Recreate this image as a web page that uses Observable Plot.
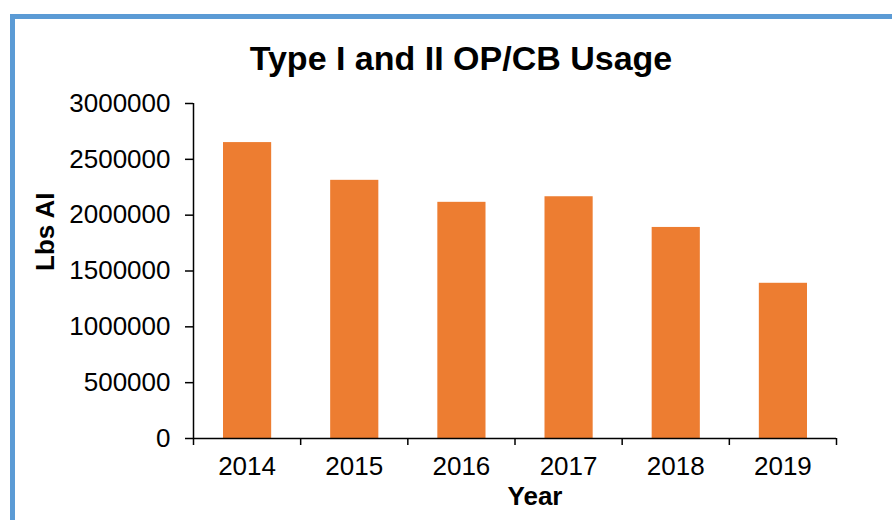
<!DOCTYPE html>
<html>
<head>
<meta charset="utf-8">
<script src="https://cdn.jsdelivr.net/npm/d3@7"></script>
<script src="https://cdn.jsdelivr.net/npm/@observablehq/plot@0.6"></script>
<style>
  html, body { margin: 0; padding: 0; background: #ffffff; }
  #wrap { position: relative; width: 892px; height: 520px; overflow: hidden; background: #ffffff; font-family: "Liberation Sans", Arial, sans-serif; }
  #border { position: absolute; left: 10px; top: 14px; width: 1000px; height: 600px; border-left: 5px solid #5B9BD5; border-top: 5px solid #5B9BD5; box-sizing: border-box; }
  #title { position: absolute; left: 0; top: 0; width: 922px; height: 80px; }
  #title h1 { margin: 0; position: absolute; left: 0; top: 41px; width: 100%; text-align: center; font-size: 34px; line-height: 34px; font-weight: bold; color: #000; }
  #chart { position: absolute; left: 0; top: 80px; }
  #chart svg { overflow: visible; }
</style>
</head>
<body>
<div id="wrap">
  <div id="border"></div>
  <div id="title"><h1>Type I and II OP/CB Usage</h1></div>
  <div id="chart"></div>
</div>
<script>
const years = [2014, 2015, 2016, 2017, 2018, 2019];
const usage = [2650000, 2312000, 2115000, 2165000, 1890000, 1390000];
const yTicks = [0, 500000, 1000000, 1500000, 2000000, 2500000, 3000000];
const xBoundaries = [2013.5, 2014.5, 2015.5, 2016.5, 2017.5, 2018.5, 2019.5];
const yLabel = ["Lbs AI"];
const xLabel = ["Year"];

const data = years.map((year, i) => ({year, value: usage[i]}));

const chart = Plot.plot({
  width: 892,
  height: 440,
  marginTop: 23,
  marginBottom: 82,
  marginLeft: 193,
  marginRight: 56,
  style: {fontFamily: "'Liberation Sans', Arial, sans-serif", fontSize: "26px", color: "#000", background: "transparent"},
  x: {domain: [2013.5, 2019.5]},
  y: {domain: [0, 3000000]},
  marks: [
    Plot.rectY(data, {x1: d => d.year - 0.5, x2: d => d.year + 0.5, y: "value", fill: "#ED7D31", insetLeft: 30, insetRight: 29}),
    Plot.ruleX([2013.5], {stroke: "#000", strokeWidth: 1.5}),
    Plot.ruleY([0], {stroke: "#000", strokeWidth: 1.5}),
    Plot.axisY({ticks: yTicks, tickFormat: d3.format("d"), tickSize: 8, tickPadding: 15, label: null, strokeWidth: 1.5, fill: "#000"}),
    Plot.axisX({ticks: xBoundaries, tickFormat: () => "", tickSize: 7, label: null, strokeWidth: 1.5}),
    Plot.axisX({ticks: years, tickFormat: d => String(d), tickSize: 0, tickPadding: 18, label: null, fill: "#000"}),
    Plot.text(yLabel, {frameAnchor: "left", rotate: -90, dx: -148, fontWeight: "bold", fontSize: 26, fill: "#000"}),
    Plot.text(xLabel, {frameAnchor: "bottom", dx: 20, dy: 66, fontWeight: "bold", fontSize: 26, fill: "#000"})
  ]
});
document.getElementById("chart").appendChild(chart);
</script>
</body>
</html>
